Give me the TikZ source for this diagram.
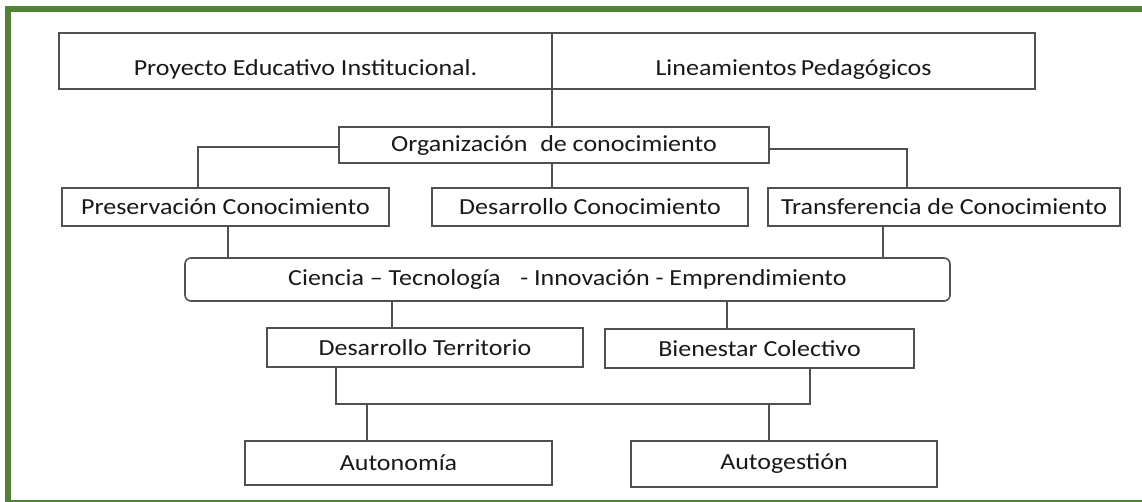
\documentclass[tikz,border=0pt]{standalone}
\usepackage{fontspec}
\setmainfont{Carlito}[FakeStretch=1.13]
\definecolor{framegreen}{RGB}{84,130,53}
\definecolor{edgegray}{RGB}{80,80,80}
\definecolor{txt}{RGB}{25,25,25}
\begin{document}
\begin{tikzpicture}[x=1pt,y=-1pt,
  box/.style={draw=edgegray,line width=1.6pt,fill=white,inner sep=0pt,text=txt,
    font=\fontsize{23}{27}\selectfont,anchor=center},
  topbox/.style={box,text height=30pt,text depth=0pt},
  rbox/.style={box,rounded corners=6pt},
  conn/.style={draw=edgegray,line width=1.6pt}]
\useasboundingbox (0,0) rectangle (1142,502);
\clip (0,0) rectangle (1142,502);
\fill[white] (0,0) rectangle (1142,502);
% frame
\draw[framegreen,line width=6pt] (8,503) -- (8,9) -- (1150,9);
\draw[framegreen,line width=6pt] (8,503) -- (1150,503);
% nodes
\node[topbox,minimum width=493pt,minimum height=56pt] (prj) at (305.5,61) {Proyecto Educativo Institucional.};
\node[topbox,minimum width=483pt,minimum height=56pt] (lin) at (793.5,61) {Lineamientos\hspace{-0.08em} Pedagógicos};
\node[box,minimum width=430pt,minimum height=36pt] (org) at (554,145) {Organización\hspace{0.3em} de conocimiento};
\node[box,minimum width=327pt,minimum height=38pt] (pres) at (225.5,207) {Preservación Conocimiento};
\node[box,minimum width=316pt,minimum height=38pt] (desc) at (590,207) {Desarrollo Conocimiento};
\node[box,minimum width=352pt,minimum height=38pt] (tran) at (944,207) {Transferencia de Conocimiento};
\node[rbox,minimum width=765pt,minimum height=43pt] (cien) at (567.5,279.5) {Ciencia – Tecnología\hspace{0.6em} - Innovación - Emprendimiento};
\node[box,minimum width=316pt,minimum height=39pt] (dter) at (425,347.5) {Desarrollo Territorio};
\node[box,minimum width=309pt,minimum height=39pt] (bien) at (759.5,348.5) {Bienestar Colectivo};
\node[box,minimum width=307pt,minimum height=44pt] (auton) at (398.5,463) {Autonomía};
\node[box,minimum width=306pt,minimum height=46pt] (autog) at (784,464) {Autogestión};
% helper coordinates
\coordinate (xdiv) at (552,0);
\coordinate (yl) at (0,147);
\coordinate (yr) at (0,149);
\coordinate (xl) at (198,0);
\coordinate (xr) at (907,0);
\coordinate (xp) at (228,0);
\coordinate (xt) at (883,0);
\coordinate (xd) at (392,0);
\coordinate (xb) at (727,0);
\coordinate (xdt) at (336,0);
\coordinate (xbb) at (810,0);
\coordinate (ybus) at (0,404);
\coordinate (xan) at (367,0);
\coordinate (xag) at (769,0);
% connectors
\draw[conn] (prj.south -| xdiv) -- (org.north -| xdiv);
\draw[conn] (org.west |- yl) -| (pres.north -| xl);
\draw[conn] (org.east |- yr) -| (tran.north -| xr);
\draw[conn] (org.south -| xdiv) -- (desc.north -| xdiv);
\draw[conn] (pres.south -| xp) -- (cien.north -| xp);
\draw[conn] (tran.south -| xt) -- (cien.north -| xt);
\draw[conn] (cien.south -| xd) -- (dter.north -| xd);
\draw[conn] (cien.south -| xb) -- (bien.north -| xb);
\draw[conn] (dter.south -| xdt) -- (xdt |- ybus) -- (xbb |- ybus) -- (bien.south -| xbb);
\draw[conn] (xan |- ybus) -- (auton.north -| xan);
\draw[conn] (xag |- ybus) -- (autog.north -| xag);
\end{tikzpicture}
\end{document}
